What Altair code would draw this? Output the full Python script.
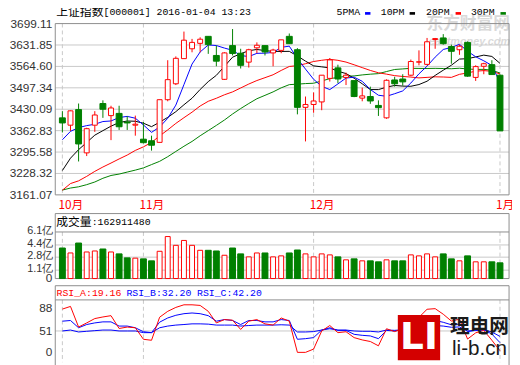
import altair as alt
import pandas as pd

# ---------------- data ----------------
opens = [3403, 3380, 3429, 3293, 3380, 3448, 3410, 3417, 3390, 3380,
         3336, 3331, 3326, 3460, 3510, 3589, 3620, 3637, 3659, 3599,
         3524, 3630, 3606, 3578, 3623, 3630, 3607, 3615, 3659, 3617,
         3436, 3445, 3453, 3527, 3560, 3530, 3520, 3465, 3470, 3442,
         3403, 3522, 3525, 3537, 3578, 3571, 3649, 3654, 3627, 3617,
         3640, 3530, 3565, 3570, 3537]
highs = [3424, 3426, 3448, 3372, 3424, 3458, 3441, 3441, 3408, 3410,
         3390, 3347, 3460, 3584, 3596, 3674, 3651, 3656, 3659, 3630,
         3609, 3682, 3620, 3620, 3640, 3630, 3620, 3648, 3668, 3622,
         3470, 3483, 3537, 3591, 3570, 3545, 3520, 3498, 3501, 3458,
         3524, 3532, 3540, 3586, 3615, 3654, 3654, 3666, 3633, 3633,
         3643, 3568, 3576, 3584, 3539]
lows = [3357, 3362, 3266, 3283, 3359, 3403, 3333, 3365, 3365, 3347,
        3323, 3300, 3326, 3455, 3506, 3589, 3609, 3609, 3604, 3565,
        3522, 3599, 3558, 3561, 3606, 3599, 3565, 3606, 3635, 3414,
        3329, 3419, 3427, 3517, 3512, 3506, 3468, 3455, 3447, 3409,
        3400, 3501, 3504, 3534, 3568, 3568, 3620, 3633, 3573, 3601,
        3532, 3519, 3540, 3540, 3362]
closes = [3387, 3425, 3321, 3369, 3412, 3430, 3434, 3375, 3387, 3383,
          3325, 3317, 3460, 3523, 3590, 3647, 3640, 3650, 3633, 3581,
          3607, 3605, 3568, 3617, 3631, 3610, 3616, 3648, 3636, 3436,
          3445, 3456, 3537, 3585, 3525, 3537, 3470, 3472, 3456, 3435,
          3521, 3510, 3516, 3580, 3579, 3642, 3652, 3636, 3612, 3628,
          3534, 3564, 3573, 3539, 3362]
volumes = [4.0, 3.35, 4.65, 3.48, 3.61, 3.87, 3.48, 3.23, 2.71, 2.67,
           2.58, 2.32, 3.57, 5.5, 4.35, 4.99, 4.35, 3.7, 3.7, 3.61,
           3.05, 4.0, 3.23, 2.84, 3.35, 3.35, 2.84, 2.97, 3.35, 3.74,
           3.23, 2.84, 3.23, 3.10, 2.84, 2.45, 2.58, 2.32, 2.32, 2.19,
           2.45, 2.32, 2.32, 3.10, 2.97, 3.23, 2.84, 3.23, 2.58, 2.32,
           2.97, 2.19, 2.19, 2.19, 2.06]
ma5 = [3334.2, 3360.6, 3372.4, 3378.6, 3382.8, 3391.4, 3393.2, 3404.0, 3407.6, 3401.8,
       3380.8, 3357.4, 3374.4, 3401.6, 3443.0, 3507.4, 3572.0, 3610.0, 3632.0, 3630.2,
       3622.2, 3615.2, 3598.8, 3595.6, 3605.6, 3606.2, 3608.4, 3624.4, 3628.2, 3589.2,
       3556.2, 3524.2, 3502.0, 3491.8, 3509.6, 3528.0, 3530.8, 3517.8, 3492.0, 3474.0,
       3470.8, 3478.8, 3487.6, 3512.4, 3541.2, 3565.4, 3593.8, 3617.8, 3624.2, 3634.0,
       3612.4, 3594.8, 3582.2, 3567.6, 3514.4]
ma10 = [3237.6, 3276.3, 3303.1, 3325.7, 3348.6, 3362.8, 3376.9, 3388.2, 3393.1, 3392.3,
        3386.1, 3375.3, 3389.2, 3404.6, 3422.4, 3444.1, 3464.7, 3492.2, 3516.8, 3536.6,
        3564.8, 3593.6, 3604.4, 3613.8, 3617.9, 3614.2, 3611.8, 3611.6, 3611.9, 3597.4,
        3581.2, 3566.3, 3563.2, 3560.0, 3549.4, 3542.1, 3527.5, 3509.9, 3491.9, 3491.8,
        3499.4, 3504.8, 3502.7, 3502.2, 3507.6, 3518.1, 3536.3, 3552.7, 3568.3, 3587.6,
        3588.9, 3594.3, 3600.0, 3595.9, 3574.2]
ma20 = [3175.6, 3196.6, 3205.1, 3219.2, 3234.9, 3248.6, 3261.0, 3273.9, 3286.1, 3300.7,
        3311.9, 3325.8, 3346.2, 3365.2, 3385.5, 3403.5, 3420.8, 3440.2, 3455.0, 3464.5,
        3475.5, 3484.5, 3496.8, 3509.2, 3520.2, 3529.2, 3538.3, 3551.9, 3564.4, 3567.0,
        3573.0, 3580.0, 3583.8, 3586.9, 3583.7, 3578.2, 3569.7, 3560.8, 3551.9, 3544.6,
        3540.3, 3535.6, 3533.0, 3531.1, 3528.5, 3530.1, 3531.9, 3531.3, 3530.1, 3539.7,
        3544.2, 3549.6, 3551.4, 3549.1, 3540.9]
ma30 = [3176.1, 3182.5, 3186.4, 3193.1, 3201.5, 3213.2, 3222.0, 3226.4, 3232.7, 3238.8,
        3245.8, 3256.2, 3266.4, 3281.0, 3297.4, 3313.7, 3328.9, 3346.7, 3363.0, 3379.3,
        3396.2, 3415.1, 3432.2, 3448.0, 3463.0, 3473.7, 3484.5, 3497.3, 3507.3, 3508.8,
        3510.7, 3511.7, 3518.9, 3526.1, 3529.9, 3533.5, 3534.7, 3537.9, 3540.2, 3541.9,
        3548.5, 3554.9, 3556.7, 3558.6, 3558.3, 3558.1, 3558.5, 3558.0, 3557.3, 3558.9,
        3556.5, 3555.1, 3555.3, 3552.7, 3543.7]
rsi_a = [86.3, 90.6, 57.3, 64.0, 71.0, 73.6, 75.7, 55.0, 57.3, 56.2,
         37.6, 36.0, 73.2, 82.7, 89.0, 93.2, 93.2, 92.2, 82.7, 64.0,
         69.4, 68.4, 53.5, 66.8, 69.4, 62.5, 60.5, 72.0, 66.8, 16.5,
         16.5, 21.8, 51.0, 59.8, 48.3, 49.8, 40.3, 36.6, 34.0, 27.1,
         54.6, 50.0, 55.0, 74.0, 73.0, 86.0, 87.0, 78.0, 67.0, 70.0,
         38.0, 48.0, 52.0, 36.0, 19.16]
rsi_b = [66.8, 67.9, 56.2, 61.4, 64.0, 65.7, 65.7, 58.9, 58.9, 56.2,
         49.8, 48.3, 65.2, 72.0, 76.3, 78.9, 80.0, 78.9, 75.7, 66.8,
         69.4, 67.9, 61.4, 67.9, 67.9, 65.7, 65.7, 69.4, 67.9, 37.6,
         38.6, 40.3, 52.5, 56.2, 51.9, 51.9, 45.6, 44.0, 43.0, 38.6,
         51.9, 51.0, 53.0, 61.4, 61.0, 66.8, 67.9, 65.0, 61.0, 62.0,
         50.0, 52.0, 53.0, 46.0, 32.2]
rsi_c = [51.0, 52.5, 49.4, 50.5, 51.5, 52.5, 52.5, 51.0, 51.0, 51.0,
         48.3, 48.3, 56.2, 58.9, 60.5, 61.4, 62.5, 62.5, 62.0, 60.5,
         60.5, 60.5, 58.9, 59.8, 60.5, 60.5, 60.5, 61.0, 60.5, 49.4,
         49.4, 50.0, 52.5, 54.6, 52.5, 52.5, 51.0, 50.5, 50.5, 49.4,
         52.5, 52.0, 53.0, 56.2, 56.0, 58.9, 59.8, 58.9, 57.0, 57.5,
         51.0, 52.0, 52.5, 49.4, 42.2]

price_ticks = [3699.11, 3631.85, 3564.60, 3497.34, 3430.09, 3362.83, 3295.58, 3228.32, 3161.07]
vol_ticks = [6.1, 4.4, 2.8, 1.1]
vol_tick_labels = ["6.1亿", "4.4亿", "2.8亿", "1.1亿"]
rsi_ticks = [88, 51]
month_idx = [0, 10, 31, 54]
month_labels = ["10月", "11月", "12月", "1月"]
title_cjk = "上证指数"
title_rest = "[000001] 2016-01-04 13:23"
vol_cjk = "成交量"
vol_rest = ":162911480"
rsi_headers = ["RSI_A:19.16", "RSI_B:32.20", "RSI_C:42.20"]
legend_labels = ["5PMA", "10PM", "20PM", "30PM"]
wm_top = ["东方财富网", "eastmoney.com"]
wm_bottom = ["LI", "理电网", "li-b.cn"]

# ---------------- layout constants ----------------
W, H = 461, 344
MAIN_TOP, MAIN_BOT = 0, 174
VOL_BOX_TOP, VOL_TOP, VOL_BOT = 193, 211.7, 259
RSI_BOX_TOP, RSI_TOP, RSI_BOT = 266.3, 280.7, 344.4
GRID = "#c8c8c8"
FRAME = "#8c8c8c"
RED, GREEN, BLUE = "#ff0000", "#008000", "#0000ff"
NUMFONT = "Liberation Sans"
CJK = "Noto Sans CJK SC"
MONO = "Liberation Mono"

df = pd.DataFrame({
    "i": list(range(len(closes))), "open": opens, "high": highs, "low": lows,
    "close": closes, "vol": volumes, "ma5": ma5, "ma10": ma10, "ma20": ma20,
    "ma30": ma30, "ra": rsi_a, "rb": rsi_b, "rc": rsi_c,
})
df["dir"] = ["up" if c >= o else "down" for o, c in zip(opens, closes)]

X = alt.Scale(domain=[-0.273, 54.51], nice=False, zero=False)
PY = alt.Scale(domain=[3161.07, 3699.11], range=[MAIN_BOT, MAIN_TOP], nice=False, zero=False)
VY = alt.Scale(domain=[0, 6.1], range=[VOL_BOT, VOL_TOP], nice=False, zero=False)
RY = alt.Scale(domain=[0, 100], range=[RSI_BOT, RSI_BOT - 63], nice=False, zero=False)

xi = alt.X("i:Q", scale=X, axis=None)
dir_stroke = alt.Stroke("dir:N", scale=alt.Scale(domain=["up", "down"], range=[RED, GREEN]), legend=None)
dir_fill = alt.Fill("dir:N", scale=alt.Scale(domain=["up", "down"], range=["#ffffff", GREEN]), legend=None)
dir_size = alt.Size("dir:N", scale=alt.Scale(domain=["up", "down"], range=[5, 6]), legend=None)

layers = []
one = pd.DataFrame({"k": [0]})


def label(text, x, y, font, size, color, align="left", weight="normal", style="normal"):
    return alt.Chart(pd.DataFrame({"t": [text]})).mark_text(
        align=align, baseline="middle", font=font, fontSize=size, color=color,
        fontWeight=weight, fontStyle=style).encode(
        x=alt.value(x), y=alt.value(y), text="t:N")


# faint watermark at top right
layers.append(label(wm_top[0], 462, 1, CJK, 17, "#d9d9d9", "right", "bold"))
layers.append(label(wm_top[1], 462, 19, NUMFONT, 11, "#dadada", "right", "bold", "italic"))

# grid lines
pt = pd.DataFrame({"p": price_ticks[1:-1]})
layers.append(alt.Chart(pt).mark_rule(color=GRID, strokeWidth=1).encode(
    y=alt.Y("p:Q", scale=PY, axis=None), x=alt.value(0), x2=alt.value(W)))
vt = pd.DataFrame({"v": vol_ticks[1:]})
layers.append(alt.Chart(vt).mark_rule(color=GRID, strokeWidth=1).encode(
    y=alt.Y("v:Q", scale=VY, axis=None), x=alt.value(0), x2=alt.value(W)))
rt = pd.DataFrame({"r": rsi_ticks[1:]})
layers.append(alt.Chart(rt).mark_rule(color=GRID, strokeWidth=1).encode(
    y=alt.Y("r:Q", scale=RY, axis=None), x=alt.value(0), x2=alt.value(W)))

# month dashed lines
mdf = pd.DataFrame({"i": month_idx, "lab": month_labels})
for top, bot in [(MAIN_TOP, MAIN_BOT), (VOL_TOP, VOL_BOT), (RSI_TOP, H)]:
    layers.append(alt.Chart(mdf).mark_rule(color=GRID, strokeDash=[4, 3], strokeWidth=1).encode(
        x=xi, y=alt.value(top), y2=alt.value(bot)))

# frames
for top, bot in [(MAIN_TOP, MAIN_BOT), (VOL_BOX_TOP, VOL_BOT), (RSI_BOX_TOP, H + 5)]:
    layers.append(alt.Chart(one).mark_rect(fill=None, stroke=FRAME, strokeWidth=1).encode(
        x=alt.value(0), x2=alt.value(W), y=alt.value(top), y2=alt.value(bot)))
for yv in [VOL_TOP, RSI_TOP]:
    layers.append(alt.Chart(one).mark_rule(color=FRAME, strokeWidth=1).encode(
        x=alt.value(0), x2=alt.value(W), y=alt.value(yv)))

# moving averages
for col, colr in [("ma30", GREEN), ("ma20", RED), ("ma10", "#000000"), ("ma5", BLUE)]:
    layers.append(alt.Chart(df).mark_line(color=colr, strokeWidth=1).encode(
        x=xi, y=alt.Y(f"{col}:Q", scale=PY, axis=None)))

# candles
layers.append(alt.Chart(df).mark_rule(strokeWidth=1).encode(
    x=xi, y=alt.Y("low:Q", scale=PY, axis=None), y2="high:Q", stroke=dir_stroke))
layers.append(alt.Chart(df).mark_bar(strokeWidth=1).encode(
    x=xi, y=alt.Y("open:Q", scale=PY, axis=None), y2="close:Q",
    fill=dir_fill, stroke=dir_stroke, size=dir_size))

# volume
layers.append(alt.Chart(df).mark_bar(strokeWidth=1).encode(
    x=xi, y=alt.Y("vol:Q", scale=VY, axis=None), y2=alt.datum(0),
    fill=dir_fill, stroke=dir_stroke, size=dir_size))

# RSI
for col, colr in [("rc", BLUE), ("rb", BLUE), ("ra", RED)]:
    layers.append(alt.Chart(df).mark_line(color=colr, strokeWidth=1).encode(
        x=xi, y=alt.Y(f"{col}:Q", scale=RY, axis=None)))

# li-b.cn logo watermark (drawn over the RSI panel, as in the reference)
layers.append(alt.Chart(one).mark_rect(color="#d40000").encode(
    x=alt.value(348), x2=alt.value(391), y=alt.value(296), y2=alt.value(342)))
layers.append(label(wm_bottom[0], 369.5, 320, "DejaVu Sans", 38, "#ffffff", "center", "bold"))
layers.append(label(wm_bottom[1], 431, 308, CJK, 20, "#1a1a1a", "center", "bold"))
layers.append(label(wm_bottom[2], 431, 331, NUMFONT, 21, "#1a1a1a", "center"))

# axis labels as text through the scales
layers.append(alt.Chart(pd.DataFrame({"p": price_ticks})).mark_text(
    align="right", baseline="middle", font=NUMFONT, fontSize=12, color="#333333", dx=-3).encode(
    y=alt.Y("p:Q", scale=PY, axis=None), x=alt.value(0), text=alt.Text("p:Q", format=".2f")))
layers.append(alt.Chart(pd.DataFrame({"v": vol_ticks, "lab": vol_tick_labels})).mark_text(
    align="right", baseline="middle", font=NUMFONT, fontSize=11, color="#333333", dx=-2, dy=-1).encode(
    y=alt.Y("v:Q", scale=VY, axis=None), x=alt.value(0), text="lab:N"))
layers.append(label("0", -3, VOL_BOT, NUMFONT, 12, "#333333", "right"))
layers.append(alt.Chart(pd.DataFrame({"r": rsi_ticks})).mark_text(
    align="right", baseline="middle", font=NUMFONT, fontSize=12, color="#333333", dx=-3).encode(
    y=alt.Y("r:Q", scale=RY, axis=None), x=alt.value(0), text="r:Q"))
layers.append(label("0", -3, 334, NUMFONT, 12, "#333333", "right"))

# month labels
layers.append(alt.Chart(mdf).mark_text(
    align="left", baseline="middle", font=CJK, fontSize=12, color=RED, dx=-4).encode(
    x=xi, y=alt.value(184), text="lab:N"))

# headers
layers.append(label(title_cjk, 1, -12, CJK, 12, "#000000"))
layers.append(label(title_rest, 49, -12, MONO, 10, "#000000"))
layers.append(label(vol_cjk, 1, 202, CJK, 12, "#000000"))
layers.append(label(vol_rest, 37, 202, MONO, 10, "#000000"))
for t, xx, c in zip(rsi_headers, [1.3, 72.3, 144], [RED, BLUE, BLUE]):
    layers.append(label(t, xx, 273.5, MONO, 10, c))

# legend
for t, xx in zip(legend_labels, [285.7, 330.7, 376.7, 422.3]):
    layers.append(label(t, xx, -12, MONO, 10, "#000000"))
for xx, c in zip([314.7, 360, 406.7, 452.3], [BLUE, "#000000", RED, GREEN]):
    layers.append(alt.Chart(one).mark_rect(color=c).encode(
        x=alt.value(xx), x2=alt.value(xx + 5.5), y=alt.value(-11.7), y2=alt.value(-9)))

chart = alt.layer(*layers).resolve_scale(
    y="independent", stroke="independent", fill="independent", color="independent",
    size="independent"
).properties(
    width=W, height=H,
    padding={"left": 48, "top": 13, "right": 3, "bottom": 0},
    autosize=alt.AutoSizeParams(type="none"),
).configure_view(stroke=None)

chart.save("out.html", embed_options={"renderer": "svg", "actions": False})
